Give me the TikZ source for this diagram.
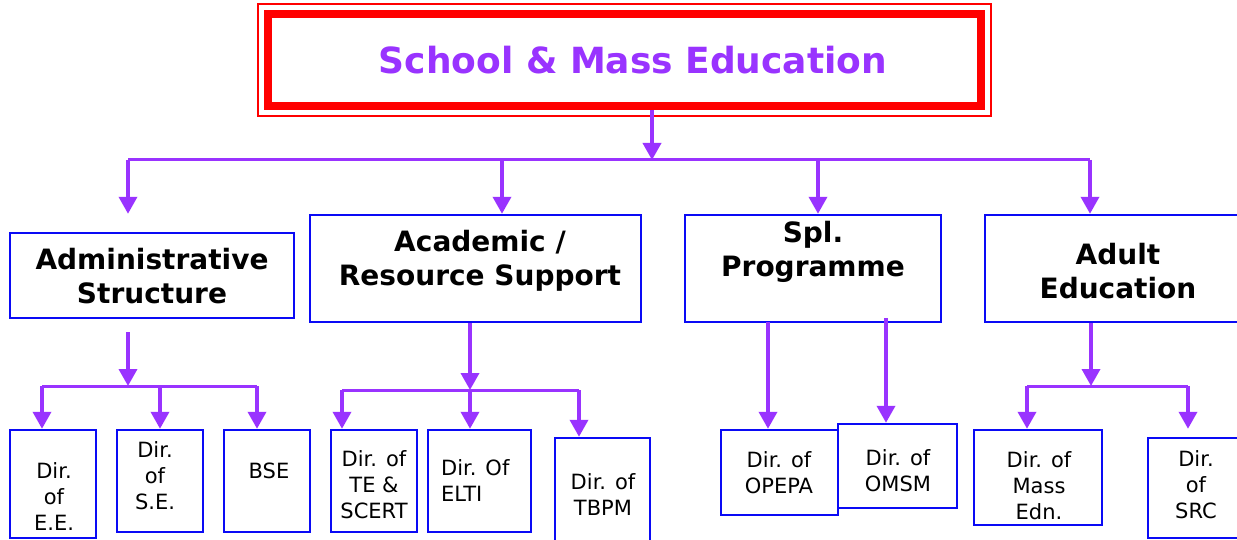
\documentclass[tikz,border=0pt]{standalone}
\usepackage{fontspec}
\setmainfont{DejaVu Sans}
\usetikzlibrary{positioning, arrows.meta, fit, calc}

\definecolor{linkpurple}{RGB}{153,51,255}
\definecolor{boxblue}{RGB}{10,10,245}

\begin{document}
\begin{tikzpicture}[
        x=1pt, y=-1pt,
        >={Triangle[width=18pt, length=17pt]},
        link/.style={draw=linkpurple, line width=3pt},
        arr/.style={link, line width=3.6pt, ->},
        headbox/.style={rectangle, draw=red, line width=8pt, inner sep=0pt},
        headtxt/.style={inner sep=0pt, text=linkpurple, font=\bfseries\fontsize{36}{43}\selectfont},
        unitbox/.style={rectangle, draw=boxblue, line width=2.4pt, inner sep=0pt},
        unittxt/.style={inner sep=0pt, align=center, font=\bfseries\fontsize{28}{34}\selectfont},
        dirbox/.style={rectangle, draw=boxblue, line width=2.4pt, inner sep=0pt},
        dirtxt/.style={inner sep=0pt, align=center, font=\fontsize{21}{26}\selectfont},
    ]
    \useasboundingbox (0,0) rectangle (1237,540);
    \fill[white] (0,0) rectangle (1237,540);

    % Draw the department box
    \node[headbox, minimum width=713pt, minimum height=92pt] (sme) at (624.5,60) {};
    \node[draw=red, line width=1.8pt, fit=(sme), inner sep=6pt] (sme-frame) {};
    \node[headtxt] (sme-t) at (633,60) {School \& Mass Education};

    % Draw the four wings
    \node[unitbox, minimum width=284pt, minimum height=85pt] (admin) at (152,275.5) {};
    \node[unitbox, minimum width=331pt, minimum height=107pt] (acad) at (475.5,268.5) {};
    \node[unitbox, minimum width=256pt, minimum height=107pt] (spl) at (813,268.5) {};
    \node[unitbox, minimum width=266pt, minimum height=107pt] (adult) at (1118,268.5) {};

    \node[unittxt] (admin-t) at (152,276) {Administrative\\Structure};
    \node[unittxt] (acad-t) at (480,261) {Academic /\\Resource Support};
    \node[unittxt] (spl-t) at (813,251.5) {Spl.\\Programme};
    \node[unittxt] (adult-t) at (1118,271.5) {Adult\\Education};

    % Draw the directorates
    \node[dirbox, minimum width=86pt, minimum height=108pt] (ee) at (53,484) {};
    \node[dirbox, minimum width=86pt, minimum height=102pt] (se) at (160,481) {};
    \node[dirbox, minimum width=86pt, minimum height=102pt] (bse) at (267,481) {};
    \node[dirbox, minimum width=86pt, minimum height=102pt] (tes) at (374,481) {};
    \node[dirbox, minimum width=103pt, minimum height=102pt] (elti) at (479.5,481) {};
    \node[dirbox, minimum width=95pt, minimum height=110pt] (tbpm) at (602.5,493) {};
    \node[dirbox, minimum width=117pt, minimum height=85pt] (opepa) at (779.5,472.5) {};
    \node[dirbox, minimum width=119pt, minimum height=84pt] (omsm) at (897.5,466) {};
    \node[dirbox, minimum width=128pt, minimum height=95pt] (mass) at (1038,477.5) {};
    \node[dirbox, minimum width=96pt, minimum height=100pt] (src) at (1196,488) {};

    \node[dirtxt] (ee-t) at (54,497) {Dir.\\of\\E.E.};
    \node[dirtxt] (se-t) at (155,475.5) {Dir.\\of\\S.E.};
    \node[dirtxt] (bse-t) at (269,470.5) {BSE};
    \node[dirtxt] (tes-t) at (374,485) {Dir. of\\TE \&\\SCERT};
    \node[dirtxt, align=left, anchor=west] (elti-t) at (441,481) {Dir. Of\\ELTI};
    \node[dirtxt] (tbpm-t) at (603,495) {Dir. of\\TBPM};
    \node[dirtxt] (opepa-t) at (779,472.5) {Dir. of\\OPEPA};
    \node[dirtxt] (omsm-t) at (898,471) {Dir. of\\OMSM};
    \node[dirtxt] (mass-t) at (1039,485.5) {Dir. of\\Mass\\Edn.};
    \node[dirtxt] (src-t) at (1196,485) {Dir.\\of\\SRC};

    % Connect the department with the wings
    \coordinate (top-bus) at (652,160);
    \coordinate (w1) at (128,160);
    \coordinate (w2) at (502,160);
    \coordinate (w3) at (818,160);
    \coordinate (w4) at (1090,160);
    \draw[arr] (sme.south -| top-bus) -- (top-bus);
    \draw[link] (w1) -- (w4);
    \foreach \w/\unit in {w1/admin, w2/acad, w3/spl, w4/adult}
        \draw[arr] (\w) -- (\w |- acad.north);

    % Administrative wing
    \coordinate (a-start) at (128,332);
    \coordinate (a0) at (128,386);
    \coordinate (a1) at (42,386);
    \coordinate (a2) at (160,386);
    \coordinate (a3) at (257,386);
    \draw[arr] (a-start) -- (a0);
    \draw[link] (a1) -- (a3);
    \foreach \a/\dir in {a1/ee, a2/se, a3/bse}
        \draw[arr] (\a) -- (\a |- \dir.north);

    % Academic wing
    \coordinate (c0) at (470,390);
    \coordinate (c1) at (342,390);
    \coordinate (c3) at (579,390);
    \draw[arr] (acad.south -| c0) -- (c0);
    \draw[link] (c1) -- (c3);
    \foreach \c/\dir in {c1/tes, c0/elti, c3/tbpm}
        \draw[arr] (\c) -- (\c |- \dir.north);

    % Special programme
    \coordinate (s1) at (768,322);
    \coordinate (s2) at (886,318);
    \draw[arr] (s1) -- (s1 |- opepa.north);
    \draw[arr] (s2) -- (s2 |- omsm.north);

    % Adult education
    \coordinate (d0) at (1091,386);
    \coordinate (d1) at (1027,386);
    \coordinate (d2) at (1188,386);
    \draw[arr] (adult.south -| d0) -- (d0);
    \draw[link] (d1) -- (d2);
    \foreach \d in {d1, d2}
        \draw[arr] (\d) -- (\d |- mass.north);
\end{tikzpicture}
\end{document}
